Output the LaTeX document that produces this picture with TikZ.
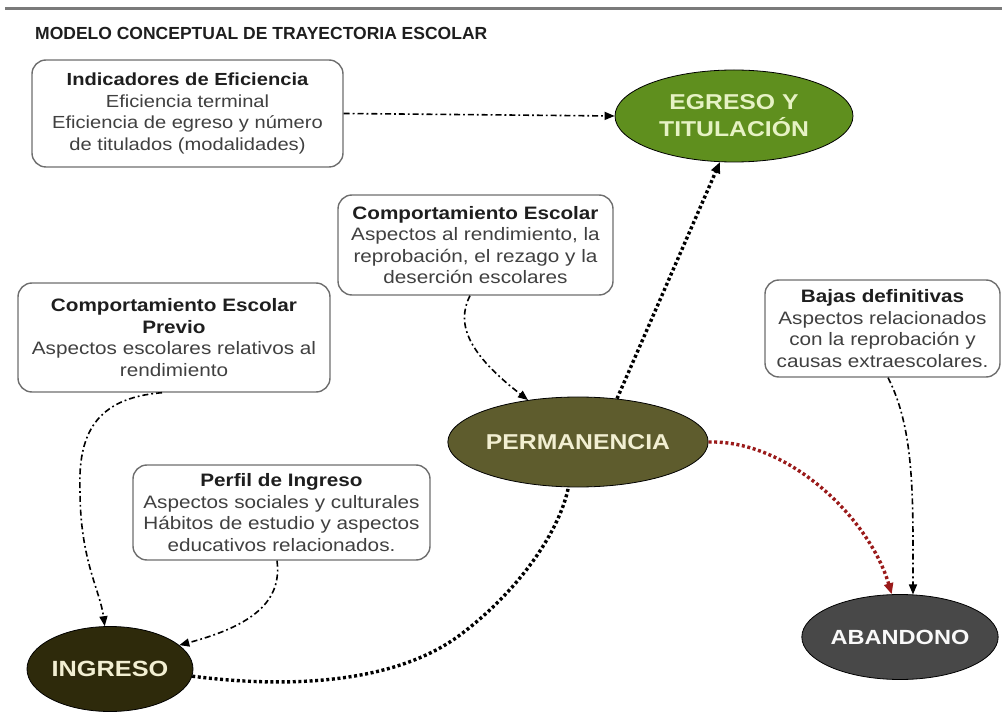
\documentclass[tikz,border=0pt]{standalone}
\usepackage{fontspec}
\usepackage{tikz}
\usetikzlibrary{shapes.geometric, arrows.meta, positioning}
\setmainfont{Liberation Sans}[FakeStretch=1.15]
\newfontfamily\titlefont{Liberation Sans}
\definecolor{egresogreen}{HTML}{5F8F1E}
\definecolor{egresotext}{HTML}{E6F2C4}
\definecolor{permolive}{HTML}{5E5C2D}
\definecolor{ingresodark}{HTML}{2E2A0B}
\definecolor{cream}{HTML}{F2EFD2}
\definecolor{abandonogray}{HTML}{484848}
\definecolor{boxgray}{HTML}{6E6E6E}
\definecolor{bodygray}{HTML}{404040}
\definecolor{headgray}{HTML}{1E1E1E}
\definecolor{linegray}{HTML}{7A7A7A}
\definecolor{dropred}{HTML}{9A1A1A}

\begin{document}
\begin{tikzpicture}[x=1pt, y=-1pt,
    infobox/.style={rectangle, draw=boxgray, line width=1.4pt, rounded corners=14pt, fill=white, align=center, inner sep=0pt, text=bodygray, font=\fontsize{18}{21.5}\selectfont},
    stage/.style={ellipse, draw=black, line width=0.8pt, inner sep=0pt, align=center, font=\bfseries\fontsize{21.5}{27}\selectfont},
    dashdot/.style={black, line width=1.6pt, dash pattern=on 6pt off 3pt on 1.8pt off 3pt, -{Triangle[length=10pt,width=8pt]}},
    dotline/.style={black, line width=3.4pt, dash pattern=on 3pt off 2.6pt},
    dotarrow/.style={dotline, -{Triangle[length=11pt,width=9pt]}}]
    \useasboundingbox (0,0) rectangle (1002,727);

    % header
    \draw [linegray, line width=3pt] (5,9) -- (1002,9);
    \node (title) [anchor=base west, inner sep=0pt, text=headgray, font=\titlefont\bfseries\fontsize{17.5}{20}\selectfont] at (35,40) {MODELO CONCEPTUAL DE TRAYECTORIA ESCOLAR};

    % stages
    \node (egreso) [stage, fill=egresogreen, text=egresotext, minimum width=238pt, minimum height=92pt] at (734,116) {EGRESO Y\\TITULACIÓN};
    \node (perm) [stage, fill=permolive, text=cream, minimum width=237pt, minimum height=90pt] at (578,442) {PERMANENCIA};
    \node (ingreso) [stage, fill=ingresodark, text=cream, minimum width=166pt, minimum height=85pt, font=\bfseries\fontsize{22}{27}\selectfont] at (110,669) {INGRESO};
    \node (abandono) [stage, fill=abandonogray, text=white!95!gray, minimum width=184pt, minimum height=85pt, font=\bfseries\fontsize{20.5}{27}\selectfont] at (900,637) {ABANDONO};

    % descriptions
    \node (indicadores) [infobox, minimum width=311pt, minimum height=107pt, font=\fontsize{17.5}{21.5}\selectfont] at (187.5,113.5)
        {{\bfseries\color{headgray}Indicadores de Eficiencia}\\Eficiencia terminal\\Eficiencia de egreso y número\\de titulados (modalidades)};
    \node (compesc) [infobox, minimum width=275pt, minimum height=100pt] at (475.5,245)
        {{\bfseries\color{headgray}Comportamiento Escolar}\\Aspectos al rendimiento, la\\reprobación, el rezago y la\\deserción escolares};
    \node (previo) [infobox, minimum width=312pt, minimum height=109pt] at (174,337.5)
        {{\bfseries\color{headgray}Comportamiento Escolar}\\{\bfseries\color{headgray}Previo}\\Aspectos escolares relativos al\\rendimiento};
    \node (perfil) [infobox, minimum width=297pt, minimum height=95pt] at (281.5,512.5)
        {{\bfseries\color{headgray}Perfil de Ingreso}\\Aspectos sociales y culturales\\Hábitos de estudio y aspectos\\educativos relacionados.};
    \node (bajas) [infobox, minimum width=235pt, minimum height=97pt] at (882.5,328.5)
        {{\bfseries\color{headgray}Bajas definitivas}\\Aspectos relacionados\\con la reprobación y\\causas extraescolares.};

    % influences
    \draw [dashdot] (indicadores.east) -- (egreso.west);
    \draw [dashdot] ([xshift=-5.5pt]compesc.south) .. controls (455,325) and (470,355) .. (perm.140);
    \draw [dashdot] ([xshift=-12pt]previo.south) .. controls (95,398) and (78,435) .. (80,490) .. controls (80,560) and (100,590) .. (ingreso.97);
    \draw [dashdot] ([xshift=-4.5pt]perfil.south) .. controls (282,600) and (255,625) .. (ingreso.19);
    \draw [dashdot] ([xshift=5.5pt]bajas.south) .. controls (915,430) and (913,500) .. (abandono.73);

    % trajectory
    \draw [dotline] (ingreso.-5) .. controls (300,690) and (400,680) .. (460,635) .. controls (520,590) and (560,530) .. (perm.-102);
    \draw [dotarrow] (perm.48) -- (egreso.-107);
    \draw [dotarrow, dropred] (perm.east) .. controls (790,440) and (870,520) .. (abandono.101);
\end{tikzpicture}
\end{document}
